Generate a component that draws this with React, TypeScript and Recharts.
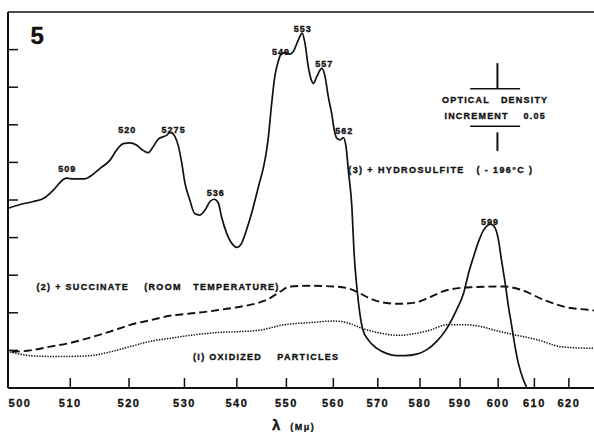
import React from 'react';
import { LineChart, Line, XAxis, YAxis, ReferenceLine, ReferenceDot } from 'recharts';

// ---------- data ----------
const WL_TICKS = [500, 510, 520, 530, 540, 550, 560, 570, 580, 590, 600, 610, 620];
const OD_TICKS = [0.05, 0.1, 0.15, 0.2, 0.25, 0.3, 0.35, 0.4, 0.45];

// (3) + hydrosulfite (-196 C)
const HYDRO_WL = [
  500.0, 501.9, 504.0, 505.6, 507.2, 508.8, 509.4, 510.5, 512.4, 513.6,
  515.0, 516.7, 517.8, 519.0, 520.2, 521.3, 522.5, 523.4, 524.3, 525.2,
  526.7, 527.4, 528.2, 528.9, 529.5, 530.1, 531.0, 531.9, 532.9, 533.9,
  534.8, 535.6, 536.4, 537.0, 538.0, 539.3, 540.0, 540.9, 541.9, 542.9,
  544.3, 545.6, 546.3, 546.9, 547.6, 548.3, 549.0, 549.7, 550.7, 551.4,
  552.5, 553.3, 553.9, 554.6, 555.4, 555.7, 556.4, 557.5, 558.2, 558.9,
  559.7, 560.2, 560.8, 561.5, 562.2, 562.8, 563.3, 564.1, 564.6, 565.2,
  565.9, 566.6, 567.8, 569.7, 572.0, 574.4, 576.4, 579.2, 581.7, 584.1,
  586.6, 589.1, 590.9, 592.2, 593.5, 594.8, 596.1, 597.4, 598.0, 598.9,
  600.0, 600.9, 601.9, 602.8, 603.7, 604.6, 605.5, 606.9, 607.9,
];
const HYDRO_OD = [
  0.239, 0.244, 0.248, 0.252, 0.263, 0.277, 0.279, 0.278, 0.278, 0.283,
  0.292, 0.303, 0.316, 0.325, 0.326, 0.323, 0.316, 0.313, 0.321, 0.331,
  0.336, 0.340, 0.335, 0.321, 0.299, 0.272, 0.250, 0.232, 0.230, 0.237,
  0.248, 0.251, 0.246, 0.228, 0.206, 0.190, 0.187, 0.192, 0.210, 0.232,
  0.268, 0.303, 0.334, 0.374, 0.414, 0.434, 0.445, 0.446, 0.444, 0.447,
  0.463, 0.472, 0.458, 0.427, 0.407, 0.405, 0.414, 0.425, 0.414, 0.387,
  0.363, 0.343, 0.332, 0.330, 0.333, 0.321, 0.290, 0.241, 0.179, 0.135,
  0.099, 0.077, 0.064, 0.053, 0.046, 0.043, 0.043, 0.045, 0.051, 0.062,
  0.079, 0.104, 0.126, 0.153, 0.175, 0.195, 0.210, 0.217, 0.218, 0.215,
  0.199, 0.170, 0.139, 0.108, 0.082, 0.055, 0.033, 0.011, 0.000,
];

// (2) + succinate (room temperature)
const SUCC_WL = [
  500.6, 503.5, 506.7, 510.0, 513.3, 516.7, 520.2, 523.7, 527.3, 531.0,
  534.8, 536.7, 540.6, 543.6, 545.9, 548.7, 550.7, 555.0, 560.0, 562.9,
  565.2, 568.2, 572.0, 575.2, 579.2, 582.5, 586.6, 592.6, 601.6, 606.0,
  612.8, 619.6, 625.6, 627.6,
];
const SUCC_OD = [
  0.048, 0.050, 0.055, 0.060, 0.067, 0.075, 0.084, 0.090, 0.096, 0.099,
  0.102, 0.104, 0.108, 0.112, 0.117, 0.128, 0.135, 0.136, 0.135, 0.133,
  0.128, 0.119, 0.113, 0.112, 0.114, 0.121, 0.130, 0.134, 0.135, 0.131,
  0.117, 0.107, 0.104, 0.103,
];

// (1) oxidized particles
const OXID_WL = [
  500.3, 501.9, 503.5, 506.7, 510.0, 513.3, 516.7, 520.2, 523.7, 527.3,
  531.0, 536.7, 540.6, 544.6, 549.4, 555.0, 560.0, 562.9, 566.6, 570.5,
  575.2, 578.4, 582.5, 586.6, 591.3, 595.2, 598.9, 603.2, 611.0, 617.6,
  625.6, 627.6,
];
const OXID_OD = [
  0.048, 0.045, 0.043, 0.042, 0.042, 0.043, 0.048, 0.055, 0.062, 0.066,
  0.070, 0.074, 0.075, 0.077, 0.084, 0.087, 0.089, 0.087, 0.079, 0.073,
  0.070, 0.072, 0.077, 0.084, 0.084, 0.082, 0.077, 0.072, 0.064, 0.055,
  0.053, 0.053,
];

// peak annotations (label anchor in data units)
const PEAK_NAMES = ['509', '520', '5275', '536', '549', '553', '557', '562', '599'];
const PEAK_WL = [509.5, 519.7, 528.0, 535.9, 548.9, 553.4, 558.0, 562.4, 597.8];
const PEAK_OD = [0.291, 0.343, 0.343, 0.259, 0.447, 0.477, 0.431, 0.342, 0.221];

// ---------- wavelength axis (prism spectrophotometer scale, linear in 1/λ²) ----------
const warp = (wl: number) => 4 - 1e6 / (wl * wl);
const unwarp = (u: number) => 1000 / Math.sqrt(4 - u);
const WL_MIN = 500;
const WL_MAX = 627.6;

const toRows = (wl: number[], od: number[]) => wl.map((w, i) => ({ x: warp(w), od: od[i] }));
const hydroRows = toRows(HYDRO_WL, HYDRO_OD);
const succRows = toRows(SUCC_WL, SUCC_OD);
const oxidRows = toRows(OXID_WL, OXID_OD);

const FONT = '"Liberation Sans", Arial, Helvetica, sans-serif';
const INK = '#111';

function BottomTick(props: any) {
  const { x, y, payload } = props;
  const wl = Math.round(unwarp(payload.value));
  const dx = wl === 500 ? 12 : 0;
  return (
    <text x={x + dx} y={y} dy="0.71em" textAnchor="middle" fontFamily={FONT} fontWeight="bold"
      fontSize={11} letterSpacing={1.5} fill={INK} stroke={INK} strokeWidth={0.3}>
      {wl}
    </text>
  );
}

const NoLabel = () => <g />;

function AxisTitle(props: any) {
  const vb = props && props.viewBox ? props.viewBox : { x: 8, y: 388, width: 586, height: 30 };
  const cx = vb.x + vb.width / 2;
  return (
    <text x={cx - 29} y={vb.y + 42} fontFamily={FONT} fontWeight="bold" fill={INK} stroke={INK} strokeWidth={0.3}>
      <tspan fontSize={15}>λ</tspan>
      <tspan fontSize={9} dx={10} letterSpacing={1.5}>(Mμ)</tspan>
    </text>
  );
}

function note(key: string, wl: number, od: number, text: string, anchor: string, size: number, ls: number) {
  return (
    <ReferenceDot
      key={key}
      yAxisId="left"
      x={warp(wl)}
      y={od}
      r={0}
      ifOverflow="visible"
      shape={(p: any) => (
        <text x={p.cx} y={p.cy} textAnchor={anchor} dominantBaseline="central" fontFamily={FONT}
          fontWeight="bold" fontSize={size} letterSpacing={ls} fill={INK} stroke={INK} strokeWidth={0.35}
          style={{ whiteSpace: 'pre' }}>
          {text}
        </text>
      )}
    />
  );
}

export default function App() {
  const barX0 = warp(592.6);
  const barX1 = warp(606.0);
  const barXm = warp(599.8);
  return (
    <div style={{ position: 'absolute', left: 0, top: 0, width: 594, height: 432, background: '#fff' }}>
      <LineChart width={594} height={432} margin={{ top: 12, right: -1, left: 7, bottom: 14 }}>
        <XAxis
          dataKey="x"
          type="number"
          domain={[warp(WL_MIN), warp(WL_MAX)]}
          allowDataOverflow
          ticks={WL_TICKS.map(warp)}
          interval={0}
          tick={(p: any) => <BottomTick {...p} />}
          tickSize={-10}
          tickMargin={21}
          height={30}
          axisLine={{ stroke: INK, strokeWidth: 2 }}
          tickLine={{ stroke: INK, strokeWidth: 1.5 }}
          label={(p: any) => <AxisTitle {...p} />}
        />
        <YAxis
          yAxisId="left"
          type="number"
          domain={[0, 0.5]}
          ticks={OD_TICKS}
          interval={0}
          width={1}
          tick={NoLabel}
          tickSize={-10}
          axisLine={{ stroke: INK, strokeWidth: 2 }}
          tickLine={{ stroke: INK, strokeWidth: 1.5 }}
        />
        <YAxis
          yAxisId="right"
          orientation="right"
          type="number"
          domain={[0, 0.5]}
          ticks={OD_TICKS}
          interval={0}
          width={1}
          tick={NoLabel}
          tickSize={-9}
          axisLine={false}
          tickLine={{ stroke: INK, strokeWidth: 1.5 }}
        />
        <ReferenceLine yAxisId="left" y={0.5} stroke={INK} strokeWidth={1.5} ifOverflow="visible" />

        <Line yAxisId="left" data={oxidRows} dataKey="od" type="monotone" stroke={INK} strokeWidth={1.5}
          strokeDasharray="1.4 1.3" dot={false} activeDot={false} isAnimationActive={false} />
        <Line yAxisId="left" data={succRows} dataKey="od" type="monotone" stroke={INK} strokeWidth={1.9}
          strokeDasharray="8 4" dot={false} activeDot={false} isAnimationActive={false} />
        <Line yAxisId="left" data={hydroRows} dataKey="od" type="monotone" stroke={INK} strokeWidth={1.7}
          dot={false} activeDot={false} isAnimationActive={false} />

        {/* optical density increment scale bar (0.05) */}
        <ReferenceLine yAxisId="left" segment={[{ x: barX0, y: 0.398 }, { x: barX1, y: 0.398 }]} stroke={INK} strokeWidth={1.4} />
        <ReferenceLine yAxisId="left" segment={[{ x: barX0, y: 0.348 }, { x: barX1, y: 0.348 }]} stroke={INK} strokeWidth={1.4} />
        <ReferenceLine yAxisId="left" segment={[{ x: barXm, y: 0.398 }, { x: barXm, y: 0.432 }]} stroke={INK} strokeWidth={2} />
        <ReferenceLine yAxisId="left" segment={[{ x: barXm, y: 0.340 }, { x: barXm, y: 0.315 }]} stroke={INK} strokeWidth={2} />

        {PEAK_NAMES.map((n, i) => note('pk' + i, PEAK_WL[i], PEAK_OD[i], n, 'middle', 9, 1))}

        {note('fig', 504.6, 0.469, '5', 'middle', 24, 0)}
        {note('c3', 563.3, 0.290, '(3) + HYDROSULFITE   ( - 196°C )', 'start', 9, 1.4)}
        {note('c2', 504.5, 0.134, '(2) + SUCCINATE    (ROOM   TEMPERATURE)', 'start', 9, 1.3)}
        {note('c1', 531.6, 0.041, '(I) OXIDIZED    PARTICLES', 'start', 9, 1.3)}
        {note('od1', 599.2, 0.383, 'OPTICAL   DENSITY', 'middle', 9, 1.2)}
        {note('od2', 599.2, 0.362, 'INCREMENT    0.05', 'middle', 9, 1.2)}
      </LineChart>
    </div>
  );
}
